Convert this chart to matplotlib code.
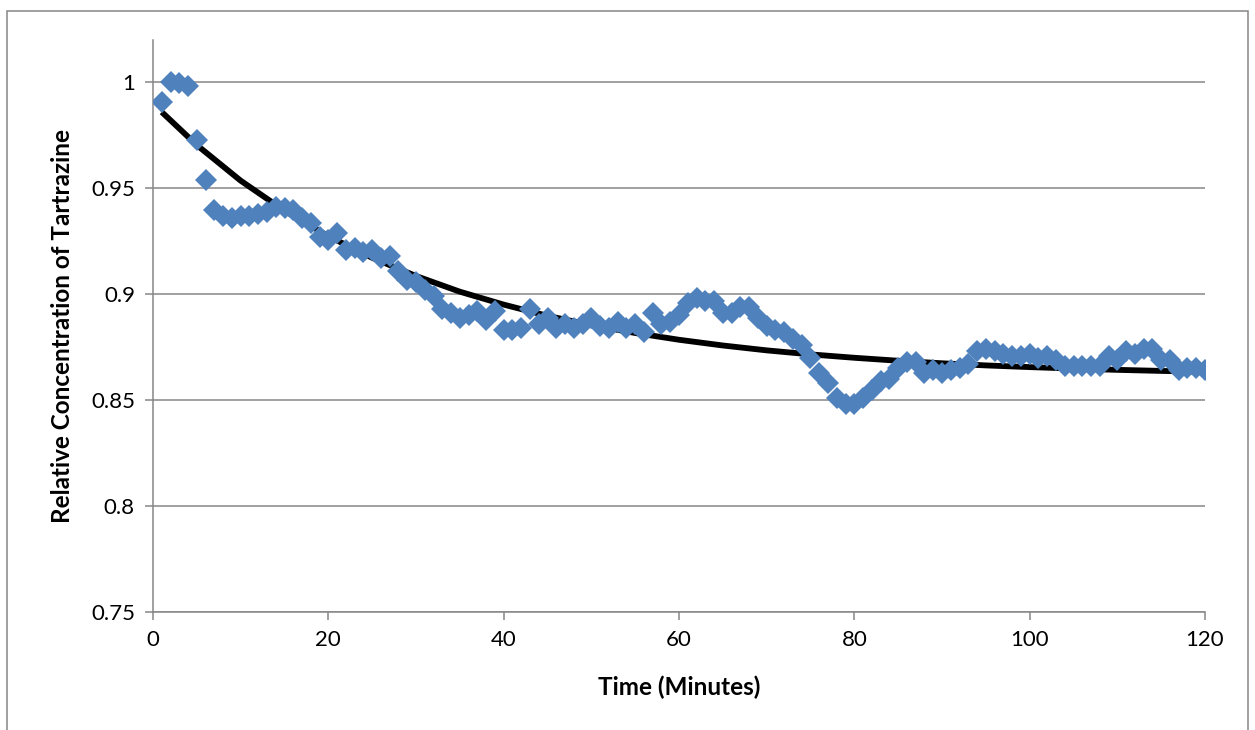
import matplotlib
matplotlib.use("Agg")
import matplotlib.pyplot as plt
from matplotlib.patches import Rectangle

# ── Data ─────────────────────────────────────────────────────────────────
minutes = list(range(1, 121))
concentration = [
    0.9906, 1.0000, 0.9995, 0.9985, 0.9726, 0.9538, 0.9396, 0.9370, 0.9360, 0.9370,
    0.9370, 0.9380, 0.9387, 0.9410, 0.9406, 0.9396, 0.9360, 0.9335, 0.9270, 0.9255,
    0.9290, 0.9210, 0.9217, 0.9200, 0.9210, 0.9170, 0.9180, 0.9110, 0.9066, 0.9057,
    0.9020, 0.8990, 0.8930, 0.8910, 0.8890, 0.8900, 0.8920, 0.8880, 0.8920, 0.8830,
    0.8830, 0.8840, 0.8930, 0.8860, 0.8890, 0.8840, 0.8860, 0.8840, 0.8860, 0.8890,
    0.8850, 0.8840, 0.8870, 0.8840, 0.8860, 0.8820, 0.8910, 0.8860, 0.8870, 0.8900,
    0.8960, 0.8980, 0.8970, 0.8970, 0.8910, 0.8910, 0.8940, 0.8940, 0.8890, 0.8850,
    0.8830, 0.8820, 0.8790, 0.8760, 0.8700, 0.8630, 0.8580, 0.8510, 0.8480, 0.8480,
    0.8510, 0.8550, 0.8590, 0.8600, 0.8650, 0.8680, 0.8680, 0.8630, 0.8640, 0.8630,
    0.8640, 0.8650, 0.8670, 0.8730, 0.8740, 0.8730, 0.8720, 0.8710, 0.8710, 0.8720,
    0.8700, 0.8710, 0.8690, 0.8660, 0.8660, 0.8660, 0.8660, 0.8660, 0.8710, 0.8690,
    0.8730, 0.8720, 0.8740, 0.8740, 0.8690, 0.8690, 0.8640, 0.8650, 0.8650, 0.8640,
]

# fitted trend line
trend_x = [1, 5, 10, 15, 20, 25, 30, 35, 40, 45, 50, 55, 60,
           65, 70, 75, 80, 85, 90, 95, 100, 105, 110, 115, 120]
trend_y = [0.9860, 0.9704, 0.9536, 0.9394, 0.9274, 0.9172, 0.9086, 0.9012, 0.8951,
           0.8898, 0.8854, 0.8817, 0.8785, 0.8758, 0.8735, 0.8716, 0.8700, 0.8686,
           0.8674, 0.8664, 0.8656, 0.8649, 0.8643, 0.8638, 0.8634]

x_ticks = [0, 20, 40, 60, 80, 100, 120]
y_ticks = [0.75, 0.8, 0.85, 0.9, 0.95, 1.0]
y_tick_labels = ["0.75", "0.8", "0.85", "0.9", "0.95", "1"]

GRID = "#868686"
BLUE = "#4F81BD"

plt.rcParams["font.family"] = ["Lato", "DejaVu Sans"]

fig = plt.figure(figsize=(12.55, 7.3), dpi=100)
ax = fig.add_axes([153 / 1255, 1 - 612 / 730, (1205 - 153) / 1255, (612 - 40) / 730])

# outer chart-area frame
fig.patches.append(Rectangle((7 / 1255, -0.05), 1241 / 1255, 1.05 - 11 / 730,
                             transform=fig.transFigure, fill=False,
                             edgecolor=GRID, linewidth=1.1))

ax.plot(trend_x, trend_y, color="black", lw=4.2, solid_capstyle="butt", zorder=2)
ax.plot(minutes, concentration, linestyle="none", marker="D", markersize=11,
        color=BLUE, markeredgewidth=0, zorder=3)

ax.set_xlim(0, 120)
ax.set_ylim(0.75, 1.02)
ax.set_xticks(x_ticks)
ax.set_yticks(y_ticks)
ax.set_yticklabels(y_tick_labels)
ax.grid(axis="y", color=GRID, lw=1.1)
ax.set_axisbelow(True)

for side in ("top", "right"):
    ax.spines[side].set_visible(False)
for side in ("left", "bottom"):
    ax.spines[side].set_color(GRID)
    ax.spines[side].set_linewidth(1.1)

ax.tick_params(axis="both", direction="out", length=6, width=1.1, color=GRID,
               labelsize=16, pad=7)

ax.set_xlabel("Time (Minutes)", fontsize=17.5, fontweight="bold", labelpad=18)
ax.set_ylabel("Relative Concentration of Tartrazine", fontsize=17.5,
              fontweight="bold", labelpad=12)

fig.savefig("out.png", dpi=100)
